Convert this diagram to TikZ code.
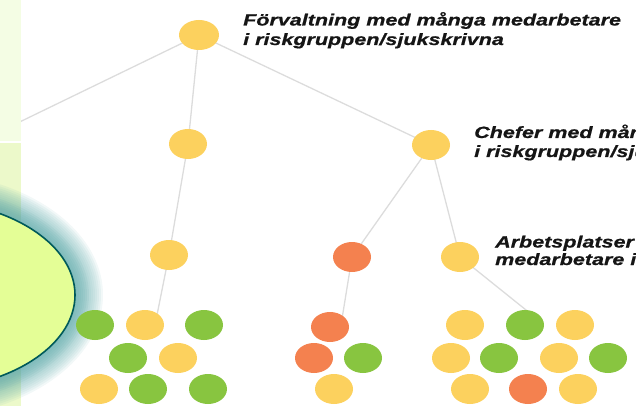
\documentclass[tikz,border=0pt]{standalone}
\usepackage{fontspec}
\newfontfamily\labfont[FakeStretch=1.32, BoldItalicFeatures={FakeBold=0.8}]{Liberation Sans}
\usetikzlibrary{shapes.geometric,backgrounds}
\definecolor{cyel}{HTML}{FCD15E}
\definecolor{cgrn}{HTML}{88C540}
\definecolor{cred}{HTML}{F4814F}
\definecolor{cline}{HTML}{DCDCDC}
\definecolor{panelA}{HTML}{F4FDE4}
\definecolor{panelB}{HTML}{ECF9CA}
\definecolor{glowc}{HTML}{6AB0B0}
\definecolor{ellfill}{HTML}{E4FE96}
\definecolor{ellline}{HTML}{005A5A}
\definecolor{labtext}{HTML}{151515}
\begin{document}
\begin{tikzpicture}[x=1pt,y=-1pt,
  dot/.style={ellipse, minimum width=38pt, minimum height=30pt, inner sep=0pt},
  ydot/.style={dot, fill=cyel},
  gdot/.style={dot, fill=cgrn},
  rdot/.style={dot, fill=cred},
  link/.style={draw=cline, line width=1.3pt},
  lab/.style={anchor=base west, inner sep=0pt, text=labtext,
    font=\labfont\bfseries\itshape\fontsize{16.3}{19}\selectfont}]
\useasboundingbox (0,0) rectangle (636,406);
\clip (0,0) rectangle (636,406);

% left panels
\fill[panelA] (0,0) rectangle (20.5,141);
\fill[panelB] (0,143) rectangle (20.5,406);

% glow around the blob
\foreach \r in {28,26,...,0} {
  \fill[glowc, opacity=0.09] (-80,295) ellipse [x radius=155+\r, y radius=95+\r];
}
\foreach \r in {14,12,...,0} {
  \fill[glowc, opacity=0.08] (-80,295) ellipse [x radius=155+\r, y radius=95+\r];
}
\node[ellipse, minimum width=310pt, minimum height=190pt, inner sep=0pt,
      draw=ellline, line width=1.6pt, fill=ellfill] (blob) at (-80,295) {};

% tree nodes
\node[ydot, minimum width=40pt] (top) at (199,35) {};
\node[ydot] (l2a) at (188,144) {};
\node[ydot] (l2b) at (431,145) {};
\node[ydot] (l3a) at (169,255) {};
\node[rdot] (l3b) at (352,257) {};
\node[ydot] (l3c) at (460,257) {};

% cluster A
\node[gdot] (a1) at (95,325) {};
\node[ydot] (a2) at (145,325) {};
\node[gdot] (a3) at (204,325) {};
\node[gdot] (a4) at (128,358) {};
\node[ydot] (a5) at (178,358) {};
\node[ydot] (a6) at (99,389) {};
\node[gdot] (a7) at (148,389) {};
\node[gdot] (a8) at (208,389) {};

% cluster B
\node[rdot] (b1) at (330,327) {};
\node[rdot] (b2) at (314,358) {};
\node[gdot] (b3) at (363,358) {};
\node[ydot] (b4) at (334,389) {};

% cluster C
\node[ydot] (c1) at (465,325) {};
\node[gdot] (c2) at (525,325) {};
\node[ydot] (c3) at (575,325) {};
\node[ydot] (c4) at (451,358) {};
\node[gdot] (c5) at (499,358) {};
\node[ydot] (c6) at (559,358) {};
\node[gdot] (c7) at (608,358) {};
\node[ydot] (c8) at (470,389) {};
\node[rdot] (c9) at (528,389) {};
\node[ydot] (c10) at (578,389) {};

% connector ends
\coordinate (offl) at (0,131.5);
\coordinate (ja) at (155,325);
\coordinate (jb) at (341,325);
\coordinate (jc) at (536,318);

\begin{scope}[on background layer]
  \draw[link] (top.center) -- (offl);
  \draw[link] (top.center) -- (l2a.center);
  \draw[link] (top.center) -- (l2b.center);
  \draw[link] (l2a.center) -- (l3a.center);
  \draw[link] (l3a.center) -- (ja);
  \draw[link] (l2b.center) -- (l3b.center);
  \draw[link] (l2b.center) -- (l3c.center);
  \draw[link] (l3b.center) -- (jb);
  \draw[link] (l3c.center) -- (jc);
\end{scope}

% labels
\node[lab] (t1a) at (243,25.5) {Förvaltning med många medarbetare};
\node[lab] (t1b) at (243,45) {i riskgruppen/sjukskrivna};
\node[lab] (t2a) at (474,138) {Chefer med många medarbetare};
\node[lab] (t2b) at (474,157) {i riskgruppen/sjukskrivna};
\node[lab] (t3a) at (495,247.5) {Arbetsplatser med många};
\node[lab] (t3b) at (495,265) {medarbetare i riskgruppen/sjukskrivna};
\end{tikzpicture}
\end{document}
